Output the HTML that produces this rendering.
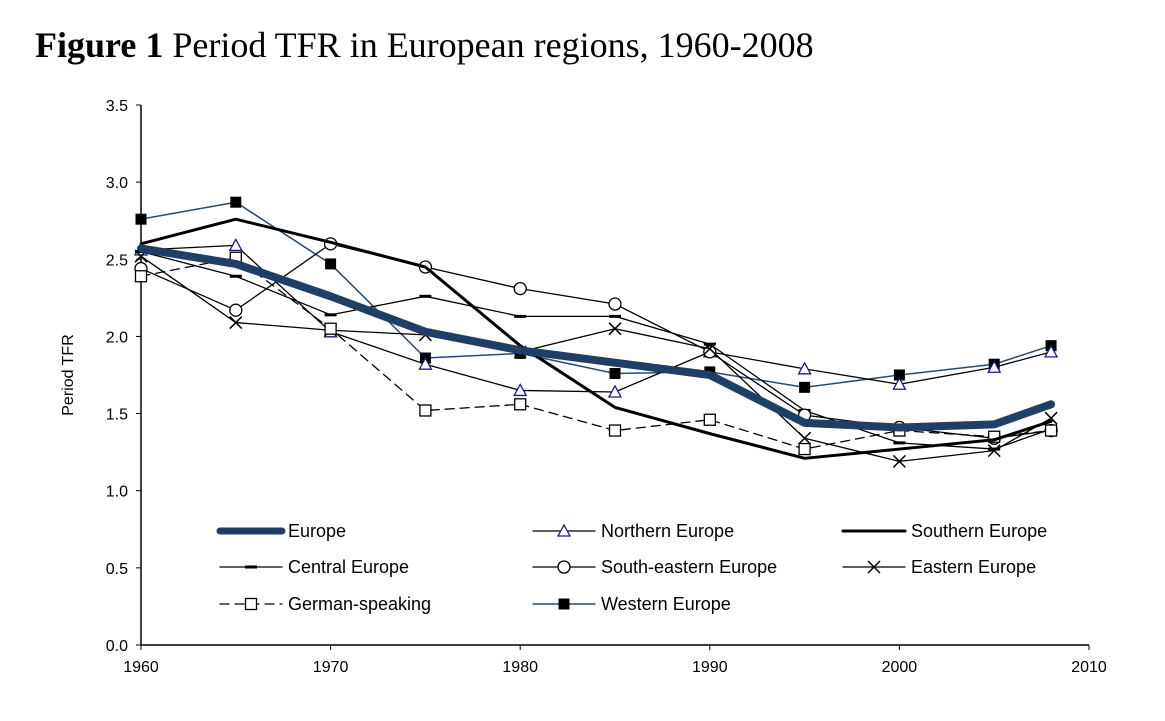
<!DOCTYPE html>
<html><head><meta charset="utf-8"><style>
body{margin:0;background:#fff;}
svg text{font-family:"Liberation Sans",sans-serif;}
</style></head><body>
<svg width="1165" height="716" viewBox="0 0 1165 716">
<text x="35" y="57" style="font-family:'Liberation Serif',serif;font-size:36px"><tspan font-weight="bold">Figure 1</tspan>  Period TFR in European regions, 1960-2008</text>
<g id="axes"></g>
<g id="series"></g>
<g id="legend"></g>
</svg>
<script>
const years=[1960,1965,1970,1975,1980,1985,1990,1995,2000,2005,2008];
const europe=[2.57,2.47,2.26,2.03,1.91,1.83,1.75,1.44,1.41,1.43,1.56];
const northern=[2.56,2.59,2.03,1.82,1.65,1.64,1.90,1.79,1.69,1.80,1.90];
const southern=[2.60,2.76,2.61,2.45,1.94,1.54,1.37,1.21,1.27,1.33,1.45];
const central=[2.55,2.39,2.14,2.26,2.13,2.13,1.95,1.52,1.31,1.27,1.40];
const southeastern=[2.44,2.17,2.60,2.45,2.31,2.21,1.90,1.49,1.41,1.34,1.39];
const eastern=[2.52,2.09,2.04,2.01,1.90,2.05,1.92,1.34,1.19,1.26,1.47];
const german=[2.39,2.51,2.05,1.52,1.56,1.39,1.46,1.27,1.39,1.35,1.39];
const western=[2.76,2.87,2.47,1.86,1.89,1.76,1.77,1.67,1.75,1.82,1.94];
const xTicks=[1960,1970,1980,1990,2000,2010];
const yTicks=[0,0.5,1,1.5,2,2.5,3,3.5];
const NS="http://www.w3.org/2000/svg";
const X=v=>141+(v-1960)*(1089-141)/50;
const Y=v=>645-v*(540/3.5);
function mk(t,a,p){const e=document.createElementNS(NS,t);for(const k in a)e.setAttribute(k,a[k]);p.appendChild(e);return e;}
const axes=document.getElementById('axes');
let l=mk('line',{x1:141,y1:105,x2:141,y2:645,stroke:'#000','stroke-width':1.5},axes);

l=mk('line',{x1:141,y1:645,x2:1089,y2:645,stroke:'#000','stroke-width':1.5},axes);

yTicks.forEach(v=>{mk('line',{x1:136,x2:141,y1:Y(v),y2:Y(v),stroke:'#000'},axes);
 const t=mk('text',{x:128,y:Y(v)+6,'text-anchor':'end','font-size':16},axes);t.textContent=v.toFixed(1);
 });
xTicks.forEach(v=>{mk('line',{x1:X(v),x2:X(v),y1:645,y2:650,stroke:'#000'},axes);
 const t=mk('text',{x:X(v),y:672,'text-anchor':'middle','font-size':16},axes);t.textContent=v;
 });
const yt=mk('text',{x:0,y:0,transform:'translate(73,375) rotate(-90)','text-anchor':'middle','font-size':16},axes);yt.textContent='Period TFR';

function marker(g,type,x,y,color){
 if(type==='tri')mk('path',{d:`M${x},${y-6}L${x+6},${y+5}L${x-6},${y+5}Z`,fill:'#fff',stroke:'#1a1a8c','stroke-width':1.3},g);
 else if(type==='circ')mk('circle',{cx:x,cy:y,r:6,fill:'#fff',stroke:'#000','stroke-width':1.3},g);
 else if(type==='x'){mk('path',{d:`M${x-6},${y-6}L${x+6},${y+6}M${x+6},${y-6}L${x-6},${y+6}`,stroke:'#000','stroke-width':1.5},g);}
 else if(type==='dash')mk('rect',{x:x-6,y:y-1.5,width:12,height:3,fill:'#000'},g);
 else if(type==='osq')mk('rect',{x:x-5.5,y:y-5.5,width:11,height:11,fill:'#fff',stroke:'#000','stroke-width':1.3},g);
 else if(type==='fsq')mk('rect',{x:x-5.5,y:y-5.5,width:11,height:11,fill:'#000'},g);
}
const series=[
 {name:'Western Europe',d:western,c:'#2a4a6e',w:1.5,m:'fsq',dash:null,key:'western'},
 {name:'Northern Europe',d:northern,c:'#000',w:1.3,m:'tri',dash:null,key:'northern'},
 {name:'Central Europe',d:central,c:'#000',w:1.3,m:'dash',dash:null,key:'central'},
 {name:'South-eastern Europe',d:southeastern,c:'#000',w:1.3,m:'circ',dash:null,key:'southeastern'},
 {name:'Eastern Europe',d:eastern,c:'#000',w:1.3,m:'x',dash:null,key:'eastern'},
 {name:'German-speaking',d:german,c:'#000',w:1.3,m:'osq',dash:'9,6',key:'german'},
 {name:'Southern Europe',d:southern,c:'#000',w:3,m:null,dash:null,key:'southern'},
 {name:'Europe',d:europe,c:'#1f3f66',w:8,m:null,dash:null,key:'europe'}
];
const sg=document.getElementById('series');
series.forEach(s=>{
 const g=mk('g',{},sg);
 
 
 const p=mk('polyline',{points:s.d.map((v,i)=>X(years[i])+','+Y(v)).join(' '),fill:'none',stroke:s.c,'stroke-width':s.w,'stroke-linejoin':'round','stroke-linecap':'round'},g);
 if(s.dash)p.setAttribute('stroke-dasharray',s.dash);
 if(s.m)s.d.forEach((v,i)=>marker(g,s.m,X(years[i]),Y(v)));
});
const leg=[
 ['Europe',220,531,'#1f3f66',7,null,null],['Northern Europe',533,531,'#000',1.3,'tri',null],['Southern Europe',843,531,'#000',3,null,null],
 ['Central Europe',220,567,'#000',1.3,'dash',null],['South-eastern Europe',533,567,'#000',1.3,'circ',null],['Eastern Europe',843,567,'#000',1.3,'x',null],
 ['German-speaking',220,604,'#000',1.3,'osq','9,6'],['Western Europe',533,604,'#2a4a6e',1.5,'fsq',null]];
const lg=document.getElementById('legend');
leg.forEach(e=>{
 const g=mk('g',{},lg);
 
 
 const ln=mk('line',{x1:e[1],x2:e[1]+62,y1:e[2],y2:e[2],stroke:e[3],'stroke-width':e[4],'stroke-linecap':'round'},g);
 if(e[6])ln.setAttribute('stroke-dasharray',e[6]);
 if(e[5])marker(g,e[5],e[1]+31,e[2]);
 const t=mk('text',{x:e[1]+68,y:e[2]+6,'font-size':18},g);t.textContent=e[0];
});
</script>
</body></html>
